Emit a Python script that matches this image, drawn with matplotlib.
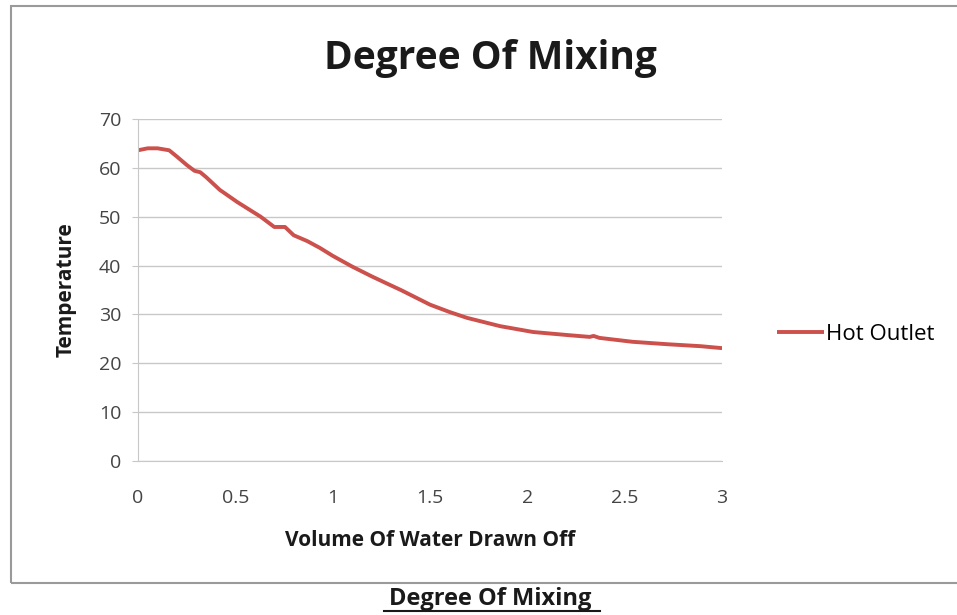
import matplotlib.pyplot as plt
from matplotlib.patches import Rectangle

# volume drawn off vs hot outlet temperature
volume = [0.0, 0.05, 0.10, 0.16, 0.20, 0.25, 0.29, 0.32, 0.35, 0.42, 0.51,
          0.63, 0.70, 0.755, 0.80, 0.87, 0.935, 1.0, 1.10, 1.20, 1.28, 1.35,
          1.42, 1.50, 1.60, 1.69, 1.86, 2.03, 2.20, 2.32, 2.34, 2.37, 2.54,
          2.72, 2.89, 3.0]
hot_outlet = [63.6, 64.0, 64.0, 63.6, 62.3, 60.6, 59.4, 59.1, 58.1, 55.5, 53.0,
              50.0, 47.9, 47.9, 46.2, 45.0, 43.6, 42.0, 39.8, 37.8, 36.3, 35.0,
              33.6, 32.0, 30.5, 29.3, 27.6, 26.4, 25.8, 25.4, 25.6, 25.2, 24.4,
              23.9, 23.5, 23.1]

x_ticks = [0, 0.5, 1, 1.5, 2, 2.5, 3]
x_tick_labels = ['0', '0.5', '1', '1.5', '2', '2.5', '3']
y_ticks = [0, 10, 20, 30, 40, 50, 60, 70]

plt.rcParams['font.family'] = ['Open Sans', 'DejaVu Sans']

fig = plt.figure(figsize=(9.57, 6.15), dpi=100)
ax = fig.add_axes([0.1442, 0.2504, 0.6103, 0.5561])

ax.plot(volume, hot_outlet, color='#CC504C', lw=2.8, label='Hot Outlet',
        solid_capstyle='butt')

ax.set_xlim(0, 3)
ax.set_ylim(0, 70)
ax.set_xticks(x_ticks)
ax.set_xticklabels(x_tick_labels)
ax.set_yticks(y_ticks)
ax.tick_params(length=0, labelsize=14, labelcolor='#444444')
ax.tick_params(axis='y', length=4, color='#C8C8C8', pad=8)
ax.tick_params(axis='x', pad=20)
ax.grid(axis='y', color='#C8C8C8', lw=1)
ax.set_axisbelow(True)
for side in ['top', 'right']:
    ax.spines[side].set_visible(False)
ax.spines['left'].set_color('#C8C8C8')
ax.spines['bottom'].set_color('#C8C8C8')

ax.set_xlabel('Volume Of Water Drawn Off', fontsize=15, fontweight='bold',
              labelpad=17, color='#1a1a1a')
ax.set_ylabel('Temperature', fontsize=15, fontweight='bold', labelpad=16,
              color='#1a1a1a')

fig.text(0.512, 0.905, 'Degree Of Mixing', ha='center', va='center',
         fontsize=28, fontweight='bold', color='#1a1a1a')

ax.legend(loc='center left', bbox_to_anchor=(1.06, 0.37), frameon=False,
          fontsize=16, handlelength=2.1, handletextpad=0.1)

# chart frame and caption underneath
fig.patches.append(Rectangle((11 / 957, 1 - 583 / 615), 1.0, 577 / 615,
                             transform=fig.transFigure, fill=False,
                             edgecolor='#9a9a9a', lw=1.5))
fig.text(0.512, 0.026, 'Degree Of Mixing', ha='center', va='center',
         fontsize=17, fontweight='bold', color='#1a1a1a')
fig.add_artist(plt.Line2D([0.401, 0.627], [0.006, 0.006],
                          transform=fig.transFigure, color='#1a1a1a', lw=1.5))

fig.savefig('out.png', dpi=100)
